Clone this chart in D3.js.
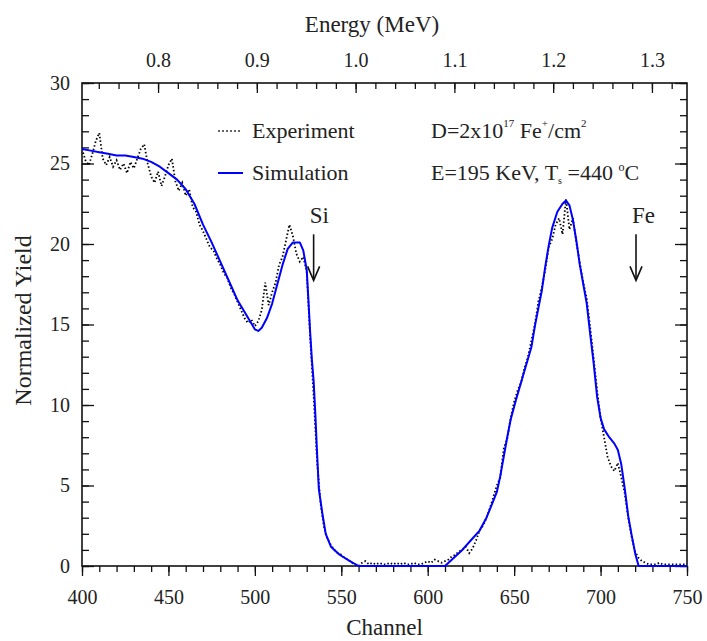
<!DOCTYPE html>
<html lang='en'>
<head>
<meta http-equiv='Content-Type' content='text/html;charset=utf-8'/>
<title>RBS spectrum</title>
<script src='https://d3js.org/d3.v7.min.js'></script>
<style>
  body { margin: 0; background: #fff; }
  text { font-family: "Liberation Serif", Tinos, "DejaVu Serif", serif; fill: #222; }
</style>
</head>
<body>
<script>
'use strict'

// simulation (channel, normalized yield)
const simChannel = [400, 405, 410, 415, 420, 425, 430, 435, 440, 445, 450, 455, 460, 465, 470, 475, 480, 485, 490, 495,
  500, 502, 504, 507, 510, 513, 516, 519, 522, 526, 528, 530, 531, 532, 533, 534, 535, 536, 537, 539, 541, 544, 549, 555, 560,
  610, 615, 620, 625, 630, 634, 637, 640, 642, 644, 646, 648, 651, 654, 657, 660, 662, 664, 666, 668, 670, 672, 675, 678, 680,
  682, 684, 686, 688, 690, 692, 694, 696, 698, 700, 702, 705, 708, 710, 712, 714, 716, 718, 720, 722, 750]
const simYield = [25.9, 25.8, 25.7, 25.6, 25.5, 25.5, 25.4, 25.3, 25.1, 24.8, 24.4, 24.0, 23.4, 22.5, 21.2, 20.1, 18.9, 17.7, 16.5, 15.6,
  14.7, 14.6, 14.8, 15.4, 16.3, 17.5, 18.7, 19.7, 20.1, 20.1, 19.6, 18.4, 16.5, 14.5, 12.8, 11.5, 9.4, 7.0, 4.8, 3.3, 2.0, 1.2, 0.7, 0.3, 0.0,
  0.0, 0.5, 1.0, 1.6, 2.2, 3.0, 3.8, 4.6, 5.6, 6.8, 8.0, 9.1, 10.3, 11.4, 12.5, 13.6, 14.9, 16.0, 17.1, 18.6, 19.9, 21.0, 22.0, 22.5, 22.7,
  22.4, 21.5, 20.2, 18.7, 17.5, 16.3, 14.4, 12.6, 10.5, 9.2, 8.5, 8.0, 7.6, 7.2, 6.3, 4.8, 3.1, 1.9, 0.8, 0.0, 0.0]

// experiment, one value every 2 channels from 400 to 750
const expChannel = d3.range(400, 751, 2)
const expYield = [
  25.9, 25.2, 24.9, 25.6, 26.4, 26.9, 25.3, 24.9, 25.4, 24.8,   // 400
  25.2, 24.6, 25.0, 24.4, 25.1, 24.7, 25.3, 25.9, 26.2, 25.0,   // 420
  24.2, 23.8, 24.5, 23.6, 24.2, 24.9, 25.3, 23.9, 23.3, 23.8,   // 440
  23.0, 23.4, 22.3, 22.0, 21.2, 20.8, 20.3, 19.8, 19.6, 19.1,   // 460
  18.7, 18.2, 17.9, 17.3, 16.9, 16.4, 15.9, 15.4, 15.1, 15.3,   // 480
  14.9, 15.2, 15.9, 17.6, 16.2, 17.0, 17.6, 18.7, 19.2, 20.2,   // 500
  21.2, 20.5, 19.4, 18.9, 19.2, 18.3, 14.2, 10.6, 6.5, 3.9,     // 520
  2.4, 1.7, 1.3, 1.0, 0.8, 0.7, 0.5, 0.4, 0.2, 0.1,             // 540
  0.0, 0.2, 0.3, 0.1, 0.2, 0.1, 0.2, 0.1, 0.1, 0.2,             // 560
  0.1, 0.2, 0.1, 0.2, 0.1, 0.1, 0.2, 0.1, 0.1, 0.2,             // 580
  0.3, 0.2, 0.4, 0.3, 0.2, 0.3, 0.4, 0.6, 0.7, 0.9,             // 600
  1.0, 1.2, 0.8, 1.1, 1.6, 2.2, 2.5, 3.0, 3.6, 4.3,             // 620
  5.0, 5.5, 7.3, 7.9, 9.2, 10.2, 10.9, 11.4, 12.3, 13.0,        // 640
  14.0, 15.0, 16.4, 17.3, 18.4, 19.8, 20.3, 21.2, 21.6, 20.6,   // 660
  22.8, 20.9, 21.6, 20.1, 18.8, 17.6, 16.6, 14.8, 12.9, 10.9,   // 680
  9.2, 8.0, 6.8, 6.2, 5.9, 6.4, 5.5, 4.5, 3.0, 1.8,             // 700
  0.9, 0.5, 0.3, 0.2, 0.1, 0.1, 0.1, 0.2, 0.1, 0.1,             // 720
  0.1, 0.1, 0.1, 0.1, 0.1, 0.1                                  // 740
]

// axes
const channelTicks = [400, 450, 500, 550, 600, 650, 700, 750]
const yieldTicks = [0, 5, 10, 15, 20, 25, 30]
const energyTicks = [0.8, 0.9, 1.0, 1.1, 1.2, 1.3]
const energyRange = [0.723, 1.3355]   // energy at channel 400 and 750

// element markers
const markLabels = ['Si', 'Fe']
const markChannels = [534, 720.5]

const FONT = '"Liberation Serif", Tinos, "DejaVu Serif", serif'
const margin = {top: 83, right: 20, bottom: 75, left: 82}
const W = 707, H = 641
const width = W - margin.left - margin.right
const height = H - margin.top - margin.bottom

const svg = d3.select('body').append('svg')
  .attr('width', W)
  .attr('height', H)
  .attr('font-family', FONT)

svg.append('rect').attr('width', W).attr('height', H).attr('fill', '#fff')

const g = svg.append('g').attr('transform', `translate(${margin.left},${margin.top})`)

const x = d3.scaleLinear().domain([400, 750]).range([0, width])
const y = d3.scaleLinear().domain([0, 30]).range([height, 0])
const e = d3.scaleLinear().domain(energyRange).range([0, width])

function styleAxis(sel) {
  sel.attr('font-family', FONT).attr('font-size', 20)
  sel.select('.domain').remove()
  sel.selectAll('line').attr('stroke', '#111').attr('stroke-width', 1.3)
  sel.selectAll('text').attr('fill', '#222')
}

// bottom: ticks point out
g.append('g').attr('transform', `translate(0,${height})`)
  .call(d3.axisBottom(x).tickValues(d3.range(400, 751, 10)).tickSize(6).tickFormat(''))
  .call(styleAxis)
g.append('g').attr('transform', `translate(0,${height})`)
  .call(d3.axisBottom(x).tickValues(channelTicks).tickSize(10).tickPadding(14).tickFormat(d3.format('d')))
  .call(styleAxis)

// left: ticks point in
g.append('g')
  .call(d3.axisLeft(y).tickValues(d3.range(0, 31, 1)).tickSize(-7).tickFormat(''))
  .call(styleAxis)
g.append('g')
  .call(d3.axisLeft(y).tickValues(yieldTicks).tickSize(-12).tickPadding(12).tickFormat(d3.format('d')))
  .call(styleAxis)

// right
g.append('g').attr('transform', `translate(${width},0)`)
  .call(d3.axisRight(y).tickValues(d3.range(0, 31, 1)).tickSize(-7).tickFormat(''))
  .call(styleAxis)
g.append('g').attr('transform', `translate(${width},0)`)
  .call(d3.axisRight(y).tickValues(yieldTicks).tickSize(-12).tickFormat(''))
  .call(styleAxis)

// top: energy
g.append('g')
  .call(d3.axisTop(e).tickValues(d3.range(0.74, 1.331, 0.02)).tickSize(-6).tickFormat(''))
  .call(styleAxis)
g.append('g')
  .call(d3.axisTop(e).tickValues(energyTicks).tickSize(-10).tickPadding(16).tickFormat(d3.format('.1f')))
  .call(styleAxis)

// frame
g.append('rect')
  .attr('width', width).attr('height', height)
  .attr('fill', 'none').attr('stroke', '#111').attr('stroke-width', 1.6)

g.append('clipPath').attr('id', 'plot')
  .append('rect').attr('width', width).attr('height', height + 1)

const lineGen = d3.line()
  .x(function(d) { return x(d[0]) })
  .y(function(d) { return y(d[1]) })

const expData = expChannel.map(function(c, i) { return [c, expYield[i]] })
const simData = simChannel.map(function(c, i) { return [c, simYield[i]] })

g.append('path')
  .attr('clip-path', 'url(#plot)')
  .attr('d', lineGen(expData))
  .attr('fill', 'none')
  .attr('stroke', '#000')
  .attr('stroke-width', 1.8)
  .attr('stroke-dasharray', '1.5 2.2')

g.append('path')
  .attr('clip-path', 'url(#plot)')
  .attr('d', lineGen(simData))
  .attr('fill', 'none')
  .attr('stroke', '#0000ff')
  .attr('stroke-width', 2)
  .attr('stroke-linejoin', 'round')

// Si / Fe markers
markLabels.forEach(function(lab, i) {
  const cx = x(markChannels[i])
  const y0 = y(20.6), y1 = y(17.8)
  g.append('text').attr('x', cx - 4).attr('y', y(21.0) - 5)
    .attr('font-size', 23).text(lab)
  g.append('line').attr('x1', cx).attr('x2', cx).attr('y1', y0).attr('y2', y1)
    .attr('stroke', '#111').attr('stroke-width', 1.6)
  g.append('path')
    .attr('d', `M${cx - 6},${y1 - 13}L${cx},${y1 + 1}L${cx + 6},${y1 - 13}`)
    .attr('fill', 'none').attr('stroke', '#111').attr('stroke-width', 1.6)
})

// legend
svg.append('line').attr('x1', 218).attr('x2', 241).attr('y1', 131).attr('y2', 131)
  .attr('stroke', '#333').attr('stroke-width', 1.3).attr('stroke-dasharray', '2 2')
svg.append('text').attr('x', 252).attr('y', 138).attr('font-size', 22).text('Experiment')
svg.append('line').attr('x1', 218).attr('x2', 243).attr('y1', 173).attr('y2', 173)
  .attr('stroke', '#0000ff').attr('stroke-width', 2)
svg.append('text').attr('x', 252).attr('y', 180).attr('font-size', 22).text('Simulation')

// implantation conditions
const t1 = svg.append('text').attr('x', 431).attr('y', 138).attr('font-size', 22)
t1.append('tspan').text('D=2x10')
t1.append('tspan').attr('font-size', 11).attr('dy', -11).text('17')
t1.append('tspan').attr('dy', 11).text(' Fe')
t1.append('tspan').attr('font-size', 11).attr('dy', -11).text('+')
t1.append('tspan').attr('dy', 11).text('/cm')
t1.append('tspan').attr('font-size', 11).attr('dy', -11).text('2')

const t2 = svg.append('text').attr('x', 431).attr('y', 180).attr('font-size', 22)
t2.append('tspan').text('E=195 KeV, T')
t2.append('tspan').attr('font-size', 10).attr('dy', 4).text('s')
t2.append('tspan').attr('dy', -4).text(' =440 ')
t2.append('tspan').attr('font-size', 12).attr('dy', -9).text('o')
t2.append('tspan').attr('dy', 9).text('C')

// axis titles
svg.append('text').attr('x', margin.left + width / 2).attr('y', 635)
  .attr('text-anchor', 'middle').attr('font-size', 23).text('Channel')
svg.append('text').attr('x', 372).attr('y', 32)
  .attr('text-anchor', 'middle').attr('font-size', 23).text('Energy (MeV)')
svg.append('text')
  .attr('transform', `translate(31,${margin.top + height / 2 - 4}) rotate(-90)`)
  .attr('text-anchor', 'middle').attr('font-size', 24).attr('fill', '#444').text('Normalized Yield')
</script>
</body>
</html>
